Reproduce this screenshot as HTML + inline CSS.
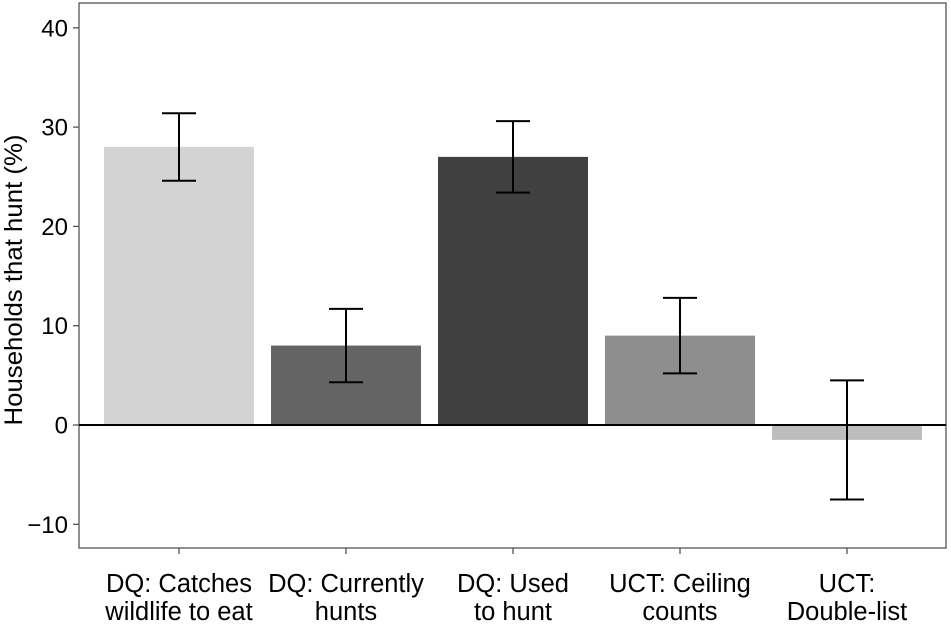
<!DOCTYPE html>
<html><head><meta charset="utf-8"><style>
body{margin:0;background:#fff;}
svg{display:block;font-family:"Liberation Sans",Arial,sans-serif;}
</style></head><body>
<svg id="chart" width="951" height="625">
<rect x="79" y="3" width="867" height="545" fill="#fff" stroke="#555" stroke-width="1.3"/>
<g id="g"></g>
<text transform="translate(22,280) rotate(-90)" text-anchor="middle" font-size="25" textLength="291" lengthAdjust="spacingAndGlyphs" fill="#000">Households that hunt (%)</text>
</svg>
<script>
const categories=[["DQ: Catches","wildlife to eat"],["DQ: Currently","hunts"],["DQ: Used","to hunt"],["UCT: Ceiling","counts"],["UCT:","Double-list"]];
const values=[28,8,27,9,-1.5];
const lower=[24.6,4.3,23.4,5.2,-7.5];
const upper=[31.4,11.7,30.6,12.8,4.5];
const colors=["#d3d3d3","#646464","#404040","#8e8e8e","#bdbdbd"];
const yTicks=[-10,0,10,20,30,40];
const ns="http://www.w3.org/2000/svg",g=document.getElementById('g');
const y=v=>425-v*9.93;
const xc=i=>179+i*167;
function mk(t,a){const e=document.createElementNS(ns,t);for(const k in a)e.setAttribute(k,a[k]);g.appendChild(e);return e;}
yTicks.forEach(t=>{
 const l=mk('line',{x1:73,x2:79,y1:y(t),y2:y(t),stroke:'#555','stroke-width':1.3});
 
 
 const tx=mk('text',{x:68,y:y(t)+8.5,'text-anchor':'end','font-size':24});
 tx.textContent=t<0?'\u221210':String(t);
 
 
});
values.forEach((v,i)=>{
 const r=mk('rect',{x:xc(i)-75,width:150,y:Math.min(y(v),y(0)),height:Math.abs(y(v)-y(0)),fill:colors[i]});
 
 
});
const z=mk('line',{x1:79,x2:946,y1:y(0),y2:y(0),stroke:'#000','stroke-width':2});


values.forEach((v,i)=>{
 const c=xc(i);
 const e=mk('path',{d:`M${c-17},${y(upper[i])}H${c+17}M${c},${y(upper[i])}V${y(lower[i])}M${c-17},${y(lower[i])}H${c+17}`,stroke:'#000','stroke-width':2,fill:'none'});
 
 
 const tk=mk('line',{x1:c,x2:c,y1:548,y2:554,stroke:'#555','stroke-width':1.3});
 
 
 categories[i].forEach((s,j)=>{
  const t=mk('text',{x:c,y:592+j*28,'text-anchor':'middle','font-size':25.5});
  t.textContent=s;
  
  
 });
});
</script>
</body></html>
